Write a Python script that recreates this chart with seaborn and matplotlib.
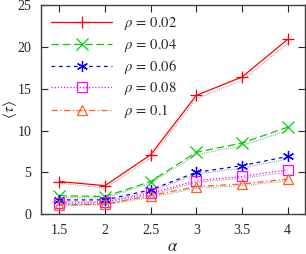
import numpy as np
import pandas as pd
import seaborn as sns
import matplotlib
matplotlib.use('Agg')
import matplotlib.pyplot as plt

alpha = [1.5, 2.0, 2.5, 3.0, 3.5, 4.0]
rho_labels = ['0.02', '0.04', '0.06', '0.08', '0.1']

# simulation values, one list per rho
tau_002 = [3.9, 3.4, 7.1, 14.2, 16.4, 20.9]
tau_004 = [2.2, 2.1, 3.9, 7.4, 8.5, 10.4]
tau_006 = [1.7, 1.7, 2.9, 5.0, 5.8, 6.9]
tau_008 = [1.3, 1.4, 2.5, 4.0, 4.5, 5.3]
tau_01 = [1.1, 1.2, 2.2, 3.3, 3.6, 4.2]

# theory curves (gray dotted)
theo_002 = [3.7, 3.1, 6.7, 13.8, 16.0, 20.4]
theo_004 = [2.0, 1.9, 3.7, 7.1, 8.2, 10.0]
theo_006 = [1.5, 1.5, 2.7, 4.8, 5.5, 6.6]
theo_008 = [1.2, 1.2, 2.3, 3.8, 4.3, 5.0]
theo_01 = [1.0, 1.1, 2.0, 3.1, 3.4, 4.0]

sims = [tau_002, tau_004, tau_006, tau_008, tau_01]
theos = [theo_002, theo_004, theo_006, theo_008, theo_01]

colors = ['#ff0000', '#00d000', '#0000ff', '#ff00ff', '#ff6020']
styles = ['-', (0, (6, 3)), (0, (3, 3)), (0, (1, 1.5)), (0, (5, 2, 1, 2))]
markers = ['+', 'x', (6, 2, 0), 's', '^']

sns.set_style('ticks')
plt.rcParams['font.family'] = ['Liberation Serif', 'DejaVu Serif']
plt.rcParams['mathtext.fontset'] = 'stix'

fig = plt.figure(figsize=(3.06, 2.54), dpi=100)
ax = fig.add_axes([0.134, 0.157, 0.863, 0.823])

for th in theos:
    d = pd.DataFrame({'alpha': alpha, 'tau': th})
    sns.lineplot(data=d, x='alpha', y='tau', ax=ax, color='#a0a0a0',
                 linestyle=(0, (1, 1)), linewidth=0.8)

for i, s in enumerate(sims):
    d = pd.DataFrame({'alpha': alpha, 'tau': s})
    hollow = markers[i] in ('s', '^')
    sns.lineplot(data=d, x='alpha', y='tau', ax=ax, color=colors[i],
                 linestyle=styles[i], linewidth=0.9, marker=markers[i],
                 markersize=6.5 if hollow else 8,
                 markerfacecolor='none' if hollow else colors[i],
                 markeredgecolor=colors[i], markeredgewidth=0.9,
                 label=r'$\rho\,=\,' + rho_labels[i] + '$')

ax.set_xlim(1.3, 4.19)
ax.set_ylim(0, 25)
ax.set_xticks(alpha)
ax.set_xticklabels(['1.5', '2', '2.5', '3', '3.5', '4'])
ax.set_yticks([0, 5, 10, 15, 20, 25])
ax.tick_params(direction='in', top=True, right=True, labelsize=10,
               length=5, width=0.8, pad=7)
for sp in ax.spines.values():
    sp.set_linewidth(1.0)
    sp.set_color('#404040')
ax.set_xlabel(r'$\alpha$', fontsize=12, labelpad=1.5)
ax.set_ylabel(r'$\langle\tau\rangle$', fontsize=11, labelpad=-1)

ax.legend(loc='upper left', frameon=False, fontsize=10.5, handlelength=4.2,
          labelspacing=0.3, borderaxespad=0.3, handletextpad=0.8)

fig.savefig('out.png', dpi=100)
